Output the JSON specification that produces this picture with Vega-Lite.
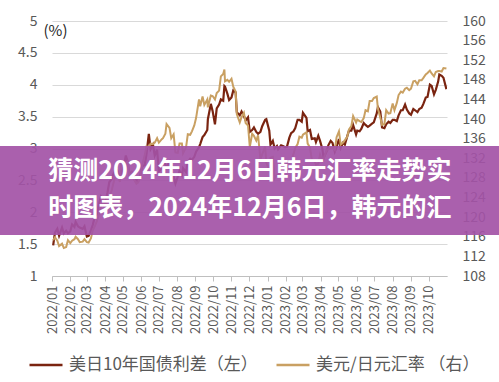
{
  "$schema": "https://vega.github.io/schema/vega-lite/v6.json",
  "width": 395,
  "height": 255,
  "autosize": {"type": "none"},
  "padding": {"left": 52, "top": 21, "right": 52, "bottom": 106},
  "background": "#ffffff",
  "config": {"view": {"stroke": null}, "font": "Noto Sans CJK SC", "axis": {"labelOverlap": false}},
  "data": {"values": [
    {"d":"2022/01/03","s":1.48,"j":115.3},{"d":"2022/01/06","s":1.68,"j":115.9},{"d":"2022/01/10","s":1.74,"j":115.2},{"d":"2022/01/13","s":1.63,"j":114.1},
    {"d":"2022/01/18","s":1.76,"j":114.6},{"d":"2022/01/21","s":1.67,"j":113.7},{"d":"2022/01/25","s":1.71,"j":113.9},{"d":"2022/01/28","s":1.67,"j":115.3},
    {"d":"2022/02/01","s":1.70,"j":114.7},{"d":"2022/02/04","s":1.81,"j":115.2},{"d":"2022/02/08","s":1.77,"j":115.5},{"d":"2022/02/10","s":1.85,"j":116.0},
    {"d":"2022/02/14","s":1.78,"j":115.5},{"d":"2022/02/17","s":1.76,"j":114.9},{"d":"2022/02/22","s":1.74,"j":115.0},{"d":"2022/02/25","s":1.78,"j":115.5},
    {"d":"2022/03/01","s":1.62,"j":114.9},{"d":"2022/03/04","s":1.63,"j":114.8},{"d":"2022/03/08","s":1.72,"j":115.7},{"d":"2022/03/11","s":1.80,"j":117.3},
    {"d":"2022/03/15","s":1.95,"j":118.3},{"d":"2022/03/18","s":1.96,"j":119.2},{"d":"2022/03/22","s":2.15,"j":120.8},{"d":"2022/03/25","s":2.25,"j":122.1},
    {"d":"2022/03/28","s":2.22,"j":123.8},{"d":"2022/03/31","s":2.11,"j":121.7},{"d":"2022/04/05","s":2.31,"j":123.6},{"d":"2022/04/08","s":2.47,"j":124.3},
    {"d":"2022/04/12","s":2.52,"j":125.4},{"d":"2022/04/14","s":2.58,"j":126.4},{"d":"2022/04/19","s":2.68,"j":128.9},{"d":"2022/04/22","s":2.65,"j":128.5},
    {"d":"2022/04/26","s":2.53,"j":127.2},{"d":"2022/04/28","s":2.62,"j":130.8},{"d":"2022/05/03","s":2.73,"j":130.1},{"d":"2022/05/06","s":2.89,"j":130.6},
    {"d":"2022/05/09","s":2.80,"j":131.2},{"d":"2022/05/12","s":2.60,"j":128.4},{"d":"2022/05/16","s":2.63,"j":129.1},{"d":"2022/05/19","s":2.60,"j":127.8},
    {"d":"2022/05/24","s":2.50,"j":126.8},{"d":"2022/05/27","s":2.49,"j":127.1},{"d":"2022/05/31","s":2.60,"j":128.7},{"d":"2022/06/03","s":2.72,"j":130.8},
    {"d":"2022/06/07","s":2.74,"j":132.6},{"d":"2022/06/10","s":2.91,"j":134.4},{"d":"2022/06/14","s":3.23,"j":134.3},{"d":"2022/06/17","s":2.99,"j":135.0},
    {"d":"2022/06/21","s":3.06,"j":134.9},{"d":"2022/06/24","s":2.89,"j":135.2},{"d":"2022/06/28","s":2.98,"j":136.1},{"d":"2022/07/01","s":2.64,"j":135.2},
    {"d":"2022/07/06","s":2.69,"j":135.9},{"d":"2022/07/08","s":2.84,"j":136.1},{"d":"2022/07/12","s":2.74,"j":137.0},{"d":"2022/07/14","s":2.71,"j":139.0},
    {"d":"2022/07/19","s":2.79,"j":138.2},{"d":"2022/07/22","s":2.53,"j":136.1},{"d":"2022/07/26","s":2.56,"j":136.9},{"d":"2022/07/29","s":2.45,"j":133.2},
    {"d":"2022/08/02","s":2.56,"j":133.1},{"d":"2022/08/05","s":2.65,"j":135.0},{"d":"2022/08/09","s":2.58,"j":135.0},{"d":"2022/08/11","s":2.69,"j":133.0},
    {"d":"2022/08/16","s":2.63,"j":134.2},{"d":"2022/08/19","s":2.79,"j":136.9},{"d":"2022/08/23","s":2.84,"j":136.8},{"d":"2022/08/26","s":2.82,"j":137.5},
    {"d":"2022/08/30","s":2.87,"j":138.7},{"d":"2022/09/02","s":2.95,"j":140.2},{"d":"2022/09/07","s":3.02,"j":144.0},{"d":"2022/09/09","s":3.07,"j":142.6},
    {"d":"2022/09/13","s":3.18,"j":144.6},{"d":"2022/09/16","s":3.21,"j":142.9},{"d":"2022/09/21","s":3.29,"j":144.0},{"d":"2022/09/22","s":3.46,"j":142.4},
    {"d":"2022/09/27","s":3.70,"j":144.8},{"d":"2022/09/30","s":3.59,"j":144.7},{"d":"2022/10/04","s":3.38,"j":144.0},{"d":"2022/10/07","s":3.63,"j":145.3},
    {"d":"2022/10/11","s":3.69,"j":145.8},{"d":"2022/10/14","s":3.77,"j":148.7},{"d":"2022/10/18","s":3.75,"j":149.2},{"d":"2022/10/20","s":3.98,"j":150.1},
    {"d":"2022/10/21","s":3.97,"j":147.7},{"d":"2022/10/25","s":3.86,"j":148.0},{"d":"2022/10/28","s":3.76,"j":147.6},{"d":"2022/11/01","s":3.80,"j":148.2},
    {"d":"2022/11/04","s":3.91,"j":146.6},{"d":"2022/11/08","s":3.88,"j":145.6},{"d":"2022/11/10","s":3.57,"j":141.0},{"d":"2022/11/15","s":3.52,"j":139.3},
    {"d":"2022/11/18","s":3.58,"j":140.4},{"d":"2022/11/22","s":3.51,"j":141.3},{"d":"2022/11/25","s":3.44,"j":139.2},{"d":"2022/11/29","s":3.49,"j":138.7},
    {"d":"2022/12/02","s":3.26,"j":134.3},{"d":"2022/12/06","s":3.29,"j":137.0},{"d":"2022/12/09","s":3.33,"j":136.6},{"d":"2022/12/13","s":3.26,"j":135.6},
    {"d":"2022/12/16","s":3.23,"j":136.7},{"d":"2022/12/20","s":3.26,"j":131.8},{"d":"2022/12/23","s":3.35,"j":132.8},{"d":"2022/12/28","s":3.45,"j":134.4},
    {"d":"2022/12/30","s":3.46,"j":131.1},{"d":"2023/01/04","s":3.28,"j":129.6},{"d":"2023/01/06","s":3.06,"j":132.1},{"d":"2023/01/10","s":3.12,"j":132.3},
    {"d":"2023/01/13","s":3.00,"j":127.9},{"d":"2023/01/17","s":3.04,"j":128.6},{"d":"2023/01/19","s":2.99,"j":128.4},{"d":"2023/01/24","s":3.05,"j":130.7},
    {"d":"2023/01/27","s":3.04,"j":129.9},{"d":"2023/01/31","s":3.02,"j":130.1},{"d":"2023/02/03","s":3.03,"j":131.2},{"d":"2023/02/07","s":3.17,"j":131.1},
    {"d":"2023/02/10","s":3.24,"j":131.4},{"d":"2023/02/14","s":3.27,"j":132.9},{"d":"2023/02/17","s":3.32,"j":134.1},{"d":"2023/02/21","s":3.45,"j":134.9},
    {"d":"2023/02/24","s":3.45,"j":136.4},{"d":"2023/02/28","s":3.42,"j":136.2},{"d":"2023/03/02","s":3.56,"j":136.8},{"d":"2023/03/08","s":3.48,"j":137.3},
    {"d":"2023/03/10","s":3.27,"j":135.0},{"d":"2023/03/14","s":3.29,"j":134.2},{"d":"2023/03/17","s":3.15,"j":131.8},{"d":"2023/03/22","s":3.16,"j":131.4},
    {"d":"2023/03/24","s":3.10,"j":130.7},{"d":"2023/03/28","s":3.20,"j":130.9},{"d":"2023/03/31","s":3.12,"j":132.8},{"d":"2023/04/04","s":2.99,"j":131.5},
    {"d":"2023/04/06","s":2.85,"j":131.8},{"d":"2023/04/11","s":2.95,"j":133.7},{"d":"2023/04/14","s":3.05,"j":133.8},{"d":"2023/04/18","s":3.12,"j":134.1},
    {"d":"2023/04/21","s":3.09,"j":134.2},{"d":"2023/04/25","s":2.95,"j":133.7},{"d":"2023/04/28","s":3.02,"j":136.3},{"d":"2023/05/02","s":3.15,"j":137.5},
    {"d":"2023/05/05","s":3.01,"j":134.8},{"d":"2023/05/09","s":3.09,"j":135.2},{"d":"2023/05/12","s":3.06,"j":135.7},{"d":"2023/05/16","s":3.19,"j":136.4},
    {"d":"2023/05/19","s":3.28,"j":137.9},{"d":"2023/05/23","s":3.28,"j":138.6},{"d":"2023/05/26","s":3.37,"j":140.6},{"d":"2023/05/31","s":3.22,"j":139.3},
    {"d":"2023/06/02","s":3.28,"j":139.9},{"d":"2023/06/06","s":3.27,"j":139.6},{"d":"2023/06/09","s":3.31,"j":139.4},{"d":"2023/06/13","s":3.40,"j":140.2},
    {"d":"2023/06/16","s":3.37,"j":141.8},{"d":"2023/06/20","s":3.34,"j":141.6},{"d":"2023/06/23","s":3.36,"j":143.7},{"d":"2023/06/27","s":3.39,"j":143.7},
    {"d":"2023/06/30","s":3.41,"j":144.3},{"d":"2023/07/05","s":3.55,"j":144.6},{"d":"2023/07/07","s":3.65,"j":142.1},{"d":"2023/07/11","s":3.58,"j":140.3},
    {"d":"2023/07/14","s":3.33,"j":138.8},{"d":"2023/07/18","s":3.32,"j":139.0},{"d":"2023/07/21","s":3.38,"j":141.8},{"d":"2023/07/25","s":3.42,"j":141.1},
    {"d":"2023/07/28","s":3.40,"j":141.2},{"d":"2023/08/01","s":3.45,"j":143.2},{"d":"2023/08/04","s":3.45,"j":141.8},{"d":"2023/08/08","s":3.43,"j":143.3},
    {"d":"2023/08/11","s":3.52,"j":144.9},{"d":"2023/08/15","s":3.60,"j":145.6},{"d":"2023/08/18","s":3.60,"j":145.4},{"d":"2023/08/22","s":3.69,"j":146.2},
    {"d":"2023/08/25","s":3.61,"j":146.4},{"d":"2023/08/29","s":3.55,"j":145.9},{"d":"2023/09/01","s":3.53,"j":146.2},{"d":"2023/09/05","s":3.62,"j":147.7},
    {"d":"2023/09/08","s":3.60,"j":147.8},{"d":"2023/09/12","s":3.57,"j":147.1},{"d":"2023/09/15","s":3.62,"j":147.9},{"d":"2023/09/19","s":3.64,"j":147.9},
    {"d":"2023/09/22","s":3.70,"j":148.4},{"d":"2023/09/26","s":3.80,"j":149.1},{"d":"2023/09/29","s":3.81,"j":149.4},{"d":"2023/10/03","s":4.00,"j":149.9},
    {"d":"2023/10/06","s":3.98,"j":149.3},{"d":"2023/10/10","s":3.85,"j":148.7},{"d":"2023/10/13","s":3.92,"j":149.6},{"d":"2023/10/17","s":4.05,"j":149.8},
    {"d":"2023/10/19","s":4.16,"j":149.8},{"d":"2023/10/23","s":4.14,"j":149.7},{"d":"2023/10/26","s":4.11,"j":150.4},{"d":"2023/10/31","s":3.93,"j":150.3}
  ]},
  "layer": [
    {
      "mark": {"type": "line", "strokeWidth": 2.2, "clip": true},
      "encoding": {
        "x": {"field": "d", "type": "temporal",
          "scale": {"domain": [{"year":2022,"month":1,"date":1},{"year":2023,"month":11,"date":1}]},
          "axis": {"format": "%Y/%m", "labelAngle": -90, "labelFlush": false, "labelOverlap": false, "labelSeparation": 0,
            "tickCount": {"interval": "month", "step": 1},
            "values": [
              {"year":2022,"month":1,"date":1},{"year":2022,"month":2,"date":1},{"year":2022,"month":3,"date":1},{"year":2022,"month":4,"date":1},
              {"year":2022,"month":5,"date":1},{"year":2022,"month":6,"date":1},{"year":2022,"month":7,"date":1},{"year":2022,"month":8,"date":1},
              {"year":2022,"month":9,"date":1},{"year":2022,"month":10,"date":1},{"year":2022,"month":11,"date":1},{"year":2022,"month":12,"date":1},
              {"year":2023,"month":1,"date":1},{"year":2023,"month":2,"date":1},{"year":2023,"month":3,"date":1},{"year":2023,"month":4,"date":1},
              {"year":2023,"month":5,"date":1},{"year":2023,"month":6,"date":1},{"year":2023,"month":7,"date":1},{"year":2023,"month":8,"date":1},
              {"year":2023,"month":9,"date":1},{"year":2023,"month":10,"date":1}
            ],
            "grid": false, "tickSize": 5, "tickColor": "#bfbfbf", "domainColor": "#bfbfbf",
            "labelFontSize": 13, "labelColor": "#595959", "labelPadding": 4, "title": null}},
        "y": {"field": "s", "type": "quantitative",
          "scale": {"domain": [1, 5], "nice": false, "zero": false},
          "axis": {"orient": "left", "values": [1,1.5,2,2.5,3,3.5,4,4.5,5], "format": "~g",
            "grid": true, "gridColor": "#d9d9d9", "domain": false, "ticks": false, "tickSize": 0,
            "labelPadding": 15, "labelFontSize": 14, "labelColor": "#595959",
            "title": "(%)", "titleAngle": 0, "titleX": -9, "titleY": 9, "titleAlign": "left", "titleBaseline": "middle",
            "titleFontSize": 15, "titleFontWeight": "normal", "titleColor": "#262626"}
        },
        "color": {"datum": "美日10年国债利差（左）", "type": "nominal",
          "scale": {"domain": ["美日10年国债利差（左）", "美元/日元汇率 （右）"], "range": ["#7a2410", "#c9a062"]},
          "legend": {"orient": "none", "legendX": -24, "legendY": 326, "direction": "horizontal", "title": null,
            "symbolType": "stroke", "symbolSize": 1089, "symbolStrokeWidth": 2.5, "labelFontSize": 17,
            "labelColor": "#595959", "labelLimit": 300, "columnPadding": 13, "labelOffset": 5, "padding": 0}
        }
      }
    },
    {
      "mark": {"type": "line", "strokeWidth": 2, "clip": true},
      "encoding": {
        "x": {"field": "d", "type": "temporal"},
        "y": {"field": "j", "type": "quantitative",
          "scale": {"domain": [108, 160], "nice": false, "zero": false},
          "axis": {"orient": "right", "values": [108,112,116,120,124,128,132,136,140,144,148,152,156,160], "format": "d",
            "grid": false, "domain": false, "ticks": false, "tickSize": 0,
            "labelPadding": 15, "labelFontSize": 14, "labelColor": "#595959", "title": null}
        },
        "color": {"datum": "美元/日元汇率 （右）", "type": "nominal"}
      }
    },
    {
      "data": {"values": [{"title": "猜测2024年12月6日韩元汇率走势实\n时图表，2024年12月6日，韩元的汇"}]},
      "layer": [
        {
          "mark": {"type": "rect", "color": "#a352a6", "opacity": 0.92, "clip": false},
          "encoding": {
            "x": {"datum": {"year":2021,"month":9,"date":1}, "type": "temporal"},
            "x2": {"datum": {"year":2024,"month":3,"date":1}},
            "y": {"datum": 3.04, "type": "quantitative", "scale": {"domain": [1, 5], "nice": false, "zero": false}, "axis": null},
            "y2": {"datum": 1.643}
          }
        },
        {
          "mark": {"type": "text", "color": "#ffffff", "fontSize": 25, "fontWeight": "bold", "font": "Noto Sans CJK SC",
            "align": "center", "baseline": "middle", "lineBreak": "\n", "lineHeight": 37, "clip": false},
          "encoding": {
            "x": {"datum": {"year":2022,"month":12,"date":2}, "type": "temporal"},
            "y": {"datum": 2.647, "type": "quantitative"},
            "text": {"field": "title", "type": "nominal"}
          }
        }
      ]
    }
  ],
  "resolve": {"scale": {"y": "independent"}}
}
